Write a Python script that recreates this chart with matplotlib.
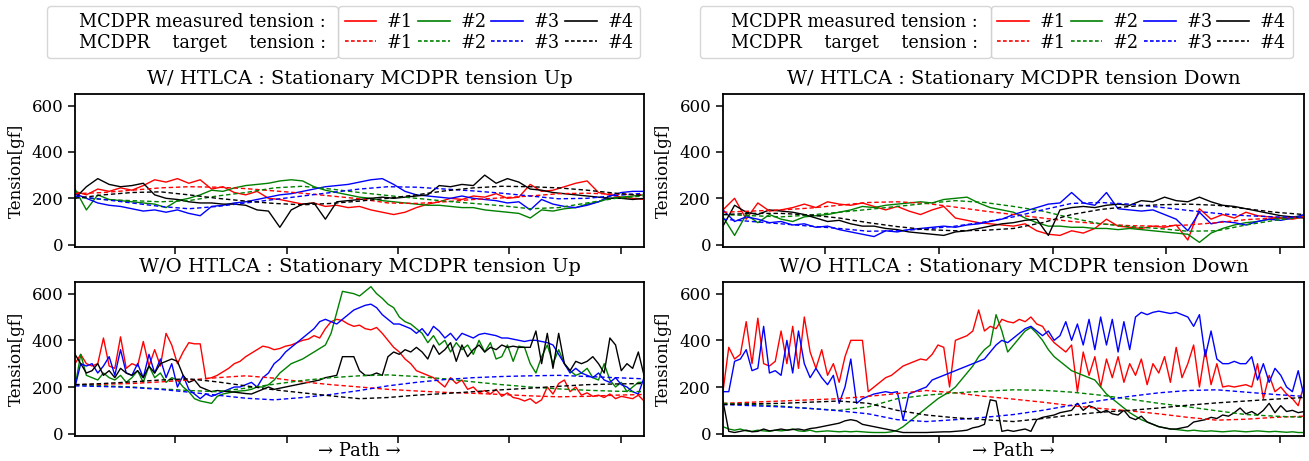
"""
MCDPR tension comparison: W/ vs W/O HTLCA, stationary tension Up / Down.
Measured (solid) and target (dashed) tension of the four cables along the path.
"""

import numpy as np
import matplotlib.pyplot as plt
from matplotlib.lines import Line2D

plt.rcParams['font.family'] = ['DejaVu Serif', 'DejaVu Sans']


# =============================================================================
# Data (values read off the path, gf)
# =============================================================================

X_START, X_END = 20, 1042
X_TICKS = [200, 400, 600, 800, 1000]
Y_TICKS = [0, 200, 400, 600]
CABLE_LABELS = ['#1', '#2', '#3', '#4']
COLORS = ['r', 'g', 'b', 'k']

# --- W/ HTLCA, tension Up ---
HT_UP_M1 = [230, 215, 240, 230, 245, 235, 255, 280, 270, 285, 265, 280, 240, 250, 225, 215, 230,
            200, 195, 185, 175, 180, 165, 170, 160, 165, 150, 140, 130, 140, 160, 175, 185, 200,
            195, 210, 205, 220, 200, 205, 260, 230, 235, 250, 265, 275, 225, 215, 205, 200, 195]
HT_UP_M2 = [240, 150, 215, 195, 190, 185, 180, 175, 160, 190, 200, 215, 235, 230, 245, 255, 260,
            265, 275, 280, 275, 250, 235, 225, 215, 205, 200, 190, 185, 180, 175, 170, 170, 165,
            160, 160, 150, 145, 140, 135, 115, 150, 145, 155, 160, 175, 185, 200, 205, 210, 215]
HT_UP_M3 = [220, 200, 180, 170, 165, 155, 145, 150, 140, 150, 135, 125, 165, 170, 180, 185, 195,
            205, 215, 220, 230, 240, 250, 255, 260, 270, 280, 285, 260, 230, 215, 210, 205, 200,
            210, 200, 195, 190, 180, 185, 150, 195, 175, 165, 160, 170, 185, 210, 225, 230, 230]
HT_UP_M4 = [200, 250, 285, 260, 250, 255, 265, 215, 200, 195, 185, 180, 180, 175, 175, 170, 150,
            145, 75, 150, 175, 180, 110, 185, 190, 195, 200, 205, 200, 205, 210, 215, 255, 250,
            260, 255, 300, 265, 285, 270, 240, 235, 225, 220, 215, 210, 205, 200, 200, 195, 200]
HT_UP_T1 = [220, 225, 235, 245, 250, 248, 242, 232, 222, 210, 198, 180, 178, 185, 195, 202, 210,
            220, 222, 218, 215]
HT_UP_T2 = [205, 195, 190, 185, 190, 210, 225, 245, 252, 240, 225, 212, 200, 188, 178, 168, 155,
            160, 180, 200, 210]
HT_UP_T3 = [210, 195, 180, 165, 155, 165, 180, 195, 210, 225, 240, 250, 248, 240, 232, 222, 210,
            198, 200, 212, 222]
HT_UP_T4 = [200, 215, 225, 228, 215, 200, 188, 178, 172, 178, 188, 200, 215, 232, 245, 252, 250,
            245, 235, 222, 212]

# --- W/ HTLCA, tension Down ---
HT_DN_M1 = [150, 200, 110, 180, 145, 150, 160, 175, 160, 185, 175, 170, 180, 165, 150, 165, 145,
            130, 150, 165, 115, 105, 95, 90, 85, 80, 90, 60, 45, 40, 60, 50, 70, 110, 80, 75, 70,
            80, 75, 85, 20, 155, 110, 130, 115, 140, 125, 120, 115, 110, 120]
HT_DN_M2 = [120, 40, 130, 95, 130, 110, 100, 120, 125, 130, 140, 150, 165, 160, 170, 175, 180,
            185, 180, 195, 200, 205, 180, 160, 150, 140, 115, 95, 80, 80, 75, 75, 70, 70, 65, 70,
            65, 60, 55, 50, 45, 10, 50, 70, 85, 95, 100, 110, 115, 120, 125]
HT_DN_M3 = [150, 100, 120, 110, 95, 100, 85, 90, 75, 80, 65, 55, 45, 35, 60, 55, 65, 70, 75, 80,
            75, 85, 90, 100, 110, 130, 145, 160, 175, 180, 225, 180, 170, 225, 155, 150, 145, 150,
            130, 110, 60, 140, 90, 100, 95, 85, 100, 110, 105, 115, 130]
HT_DN_M4 = [80, 170, 140, 130, 150, 145, 140, 130, 115, 100, 105, 90, 80, 80, 70, 65, 55, 50, 45,
            40, 55, 60, 70, 80, 90, 95, 105, 110, 40, 150, 160, 165, 160, 170, 175, 170, 190, 185,
            205, 190, 185, 205, 185, 170, 165, 155, 145, 135, 125, 120, 115]
HT_DN_T1 = [140, 145, 150, 158, 170, 182, 185, 178, 162, 145, 130, 115, 100, 90, 82, 80, 85, 95,
            108, 115, 120]
HT_DN_T2 = [130, 125, 120, 128, 140, 152, 165, 178, 190, 182, 165, 145, 115, 90, 78, 70, 58, 60,
            85, 105, 120]
HT_DN_T3 = [110, 100, 90, 80, 70, 58, 60, 68, 80, 98, 120, 150, 178, 182, 175, 162, 148, 135, 125,
            120, 118]
HT_DN_T4 = [130, 135, 135, 128, 115, 95, 78, 65, 60, 62, 70, 95, 130, 152, 165, 172, 175, 170,
            155, 140, 130]

# --- W/O HTLCA, tension Up ---
NO_UP_M1 = [300, 340, 300, 290, 300, 410, 290, 280, 415, 280, 300, 290, 395, 290, 360, 290, 430,
            380, 300, 350, 390, 385, 385, 235, 240, 250, 265, 280, 300, 310, 330, 345, 360, 375,
            370, 360, 365, 375, 380, 390, 400, 405, 420, 410, 450, 480, 490, 485, 470, 460, 465,
            450, 445, 455, 430, 400, 370, 350, 320, 300, 270, 260, 250, 240, 220, 200, 240, 215,
            230, 190, 200, 175, 185, 170, 190, 160, 175, 155, 150, 140, 150, 130, 145, 200, 170,
            215, 230, 180, 200, 165, 175, 160, 165, 155, 170, 150, 160, 155, 150, 165, 140]
NO_UP_M2 = [200, 340, 250, 240, 230, 260, 240, 230, 250, 220, 240, 270, 220, 290, 240, 260, 220,
            240, 230, 200, 180, 150, 140, 135, 130, 160, 170, 175, 180, 183, 185, 190, 200, 200,
            210, 230, 260, 280, 300, 310, 320, 335, 350, 365, 380, 430, 520, 610, 605, 600, 590,
            610, 630, 600, 580, 555, 540, 500, 480, 470, 450, 430, 390, 420, 380, 400, 350, 390,
            360, 380, 340, 400, 350, 390, 320, 330, 380, 310, 375, 370, 300, 260, 330, 380, 300,
            360, 300, 270, 250, 260, 280, 240, 230, 300, 230, 200, 220, 180, 200, 220, 220]
NO_UP_M3 = [200, 300, 290, 300, 260, 290, 330, 250, 360, 260, 250, 300, 240, 340, 260, 320, 240,
            300, 200, 250, 190, 170, 150, 170, 160, 170, 180, 190, 200, 200, 210, 220, 200, 240,
            260, 300, 320, 350, 370, 390, 410, 430, 450, 480, 490, 480, 470, 490, 510, 530, 540,
            550, 555, 540, 510, 490, 470, 470, 460, 450, 430, 450, 420, 460, 440, 410, 430, 400,
            430, 420, 410, 425, 430, 425, 420, 410, 410, 405, 400, 395, 400, 400, 395, 390, 380,
            340, 300, 260, 280, 260, 250, 240, 260, 230, 220, 240, 210, 200, 180, 170, 240]
NO_UP_M4 = [340, 300, 260, 270, 300, 250, 270, 240, 280, 260, 250, 270, 240, 290, 260, 300, 310,
            320, 310, 250, 220, 230, 200, 190, 180, 185, 182, 180, 178, 175, 172, 170, 180, 190,
            200, 190, 195, 200, 205, 210, 215, 220, 225, 230, 240, 245, 250, 330, 330, 330, 270,
            250, 250, 260, 250, 330, 350, 340, 360, 350, 370, 350, 320, 380, 340, 360, 390, 310,
            380, 330, 360, 380, 350, 370, 360, 380, 370, 375, 370, 370, 370, 440, 300, 430, 280,
            430, 300, 270, 310, 300, 310, 330, 300, 260, 410, 380, 270, 300, 280, 350, 250]
NO_UP_T1 = [210, 212, 215, 222, 230, 240, 248, 238, 222, 210, 200, 190, 183, 177, 173, 168, 162,
            158, 160, 165, 168]
NO_UP_T2 = [210, 205, 200, 192, 185, 180, 195, 212, 228, 240, 248, 252, 245, 235, 222, 210, 200,
            192, 186, 182, 180]
NO_UP_T3 = [205, 202, 198, 190, 178, 165, 152, 145, 155, 168, 185, 205, 220, 232, 240, 245, 248,
            250, 245, 240, 235]
NO_UP_T4 = [210, 215, 222, 230, 235, 222, 205, 188, 175, 162, 150, 155, 165, 172, 180, 188, 195,
            203, 210, 213, 215]

# --- W/O HTLCA, tension Down ---
NO_DN_M1 = [180, 370, 320, 340, 480, 300, 495, 300, 290, 310, 440, 300, 460, 280, 500, 350, 280,
            360, 250, 300, 220, 330, 400, 400, 400, 180, 200, 220, 240, 250, 270, 290, 300, 310,
            320, 315, 340, 380, 370, 200, 400, 410, 420, 440, 530, 440, 460, 450, 490, 480, 475,
            490, 480, 500, 470, 460, 420, 390, 370, 350, 380, 180, 350, 250, 330, 200, 320, 240,
            330, 220, 300, 250, 320, 210, 300, 260, 330, 220, 370, 240, 300, 380, 200, 360, 210,
            300, 200, 205, 200, 205, 210, 200, 300, 150, 250, 180, 200, 170, 150, 120, 210]
NO_DN_M2 = [30, 20, 15, 20, 12, 10, 15, 12, 10, 15, 12, 15, 20, 12, 10, 15, 8, 10, 12, 10, 8, 10,
            8, 10, 8, 6, 5, 5, 5, 8, 15, 30, 50, 70, 90, 110, 130, 150, 165, 180, 200, 230, 260,
            290, 330, 360, 380, 510, 440, 350, 380, 410, 440, 455, 430, 400, 360, 330, 310, 290,
            270, 260, 250, 240, 230, 200, 170, 150, 130, 110, 90, 75, 60, 50, 40, 30, 25, 20, 18,
            15, 12, 15, 12, 10, 12, 10, 8, 10, 12, 10, 8, 10, 12, 10, 8, 10, 8, 6, 8, 5, 5]
NO_DN_M3 = [180, 180, 310, 320, 360, 270, 280, 460, 260, 270, 250, 400, 260, 440, 300, 240, 280,
            240, 210, 250, 130, 200, 320, 130, 150, 160, 170, 175, 180, 175, 180, 60, 170, 180,
            190, 200, 230, 240, 250, 260, 270, 280, 290, 300, 310, 320, 350, 380, 400, 390, 410,
            430, 450, 460, 440, 420, 440, 400, 420, 480, 400, 470, 380, 490, 360, 500, 380, 490,
            350, 480, 360, 500, 520, 510, 520, 525, 520, 515, 520, 510, 500, 460, 510, 330, 440,
            320, 300, 300, 310, 300, 300, 330, 230, 300, 220, 280, 250, 200, 180, 270, 160]
NO_DN_M4 = [140, 10, 5, 10, 15, 8, 10, 20, 12, 15, 20, 15, 18, 20, 15, 22, 25, 30, 35, 40, 45, 55,
            60, 55, 40, 35, 30, 25, 20, 15, 10, 5, 5, 5, 5, 5, 6, 7, 8, 8, 10, 12, 15, 25, 30, 40,
            145, 140, 10, 15, 10, 15, 20, 10, 60, 70, 75, 80, 90, 95, 100, 130, 100, 120, 110, 90,
            100, 85, 80, 100, 70, 60, 75, 50, 40, 30, 25, 20, 20, 25, 30, 50, 55, 60, 70, 65, 80,
            75, 90, 110, 85, 95, 80, 100, 130, 90, 120, 95, 100, 90, 95]
NO_DN_T1 = [130, 135, 140, 145, 150, 160, 172, 185, 175, 160, 148, 135, 120, 108, 98, 85, 70, 58,
            62, 70, 75]
NO_DN_T2 = [130, 125, 118, 108, 100, 115, 150, 165, 175, 182, 188, 186, 178, 165, 148, 130, 115,
            98, 82, 75, 70]
NO_DN_T3 = [125, 120, 115, 108, 98, 85, 60, 52, 60, 70, 82, 100, 122, 142, 160, 175, 185, 188,
            178, 168, 160]
NO_DN_T4 = [125, 128, 130, 135, 140, 130, 100, 80, 68, 60, 52, 65, 80, 92, 100, 110, 122, 132,
            140, 148, 155]

TITLES = [
    "W/ HTLCA : Stationary MCDPR tension Up",
    "W/ HTLCA : Stationary MCDPR tension Down",
    "W/O HTLCA : Stationary MCDPR tension Up",
    "W/O HTLCA : Stationary MCDPR tension Down",
]

# axes rectangles in figure fraction (left, bottom, width, height)
AX_RECTS = [
    [0.0573, 0.4642, 0.4347, 0.3319],
    [0.5523, 0.4642, 0.4439, 0.3319],
    [0.0573, 0.0542, 0.4347, 0.3341],
    [0.5523, 0.0542, 0.4439, 0.3341],
]

DASHES = (3.2, 2.0)


# =============================================================================
# Plot helpers
# =============================================================================

def path_x(values):
    """Samples are evenly spaced along the path."""
    return np.linspace(X_START, X_END, len(values))


def draw_panel(ax, title, measured, target, show_xlabel=False):
    for vals, c in zip(measured, COLORS):
        ax.plot(path_x(vals), vals, color=c, lw=1.0)
    for vals, c in zip(target, COLORS):
        ax.plot(path_x(vals), vals, color=c, lw=1.0, ls='--', dashes=DASHES)

    ax.set_xlim(X_START, X_END)
    ax.set_ylim(-10, 650)
    ax.set_xticks(X_TICKS)
    ax.set_xticklabels([])
    ax.set_yticks(Y_TICKS)
    ax.tick_params(labelsize=12, length=5, width=1.1)
    for sp in ax.spines.values():
        sp.set_linewidth(1.3)
    ax.set_title(title, fontsize=14, pad=7)
    ax.set_ylabel("Tension[gf]", fontsize=12, labelpad=5)
    if show_xlabel:
        ax.set_xlabel("→ Path →", fontsize=13)
        ax.xaxis.set_label_coords(0.5, -0.04)


def add_legend(fig, x_div, top):
    handles, labels = [], []
    for lab, c in zip(CABLE_LABELS, COLORS):
        handles += [Line2D([], [], color=c, lw=1.2),
                    Line2D([], [], color=c, lw=1.2, ls='--', dashes=(2.2, 1.4))]
        labels += [lab, lab]
    common = dict(fontsize=12.7, borderaxespad=0, borderpad=0.38, labelspacing=0.16)
    fig.legend(handles, labels, ncol=4, loc='upper left', bbox_to_anchor=(x_div, top),
               handlelength=1.8, handletextpad=0.6, columnspacing=0.28, **common)
    blank = [Line2D([], [], ls='none'), Line2D([], [], ls='none')]
    fig.legend(blank, ["MCDPR measured tension : ", "MCDPR    target    tension : "],
               loc='upper right', bbox_to_anchor=(x_div, top),
               handlelength=1.0, handletextpad=0.4, **common)


# =============================================================================
# Main
# =============================================================================

def main():
    fig = plt.figure(figsize=(13.09, 4.61), dpi=100)

    panels = [
        ([HT_UP_M1, HT_UP_M2, HT_UP_M3, HT_UP_M4], [HT_UP_T1, HT_UP_T2, HT_UP_T3, HT_UP_T4]),
        ([HT_DN_M1, HT_DN_M2, HT_DN_M3, HT_DN_M4], [HT_DN_T1, HT_DN_T2, HT_DN_T3, HT_DN_T4]),
        ([NO_UP_M1, NO_UP_M2, NO_UP_M3, NO_UP_M4], [NO_UP_T1, NO_UP_T2, NO_UP_T3, NO_UP_T4]),
        ([NO_DN_M1, NO_DN_M2, NO_DN_M3, NO_DN_M4], [NO_DN_T1, NO_DN_T2, NO_DN_T3, NO_DN_T4]),
    ]
    for i, (rect, title, (meas, targ)) in enumerate(zip(AX_RECTS, TITLES, panels)):
        ax = fig.add_axes(rect)
        draw_panel(ax, title, meas, targ, show_xlabel=(i >= 2))

    add_legend(fig, 338 / 1309, 1 - 6 / 461)
    add_legend(fig, 990.5 / 1309, 1 - 6 / 461)

    fig.savefig("out.png", dpi=100)


if __name__ == "__main__":
    main()
